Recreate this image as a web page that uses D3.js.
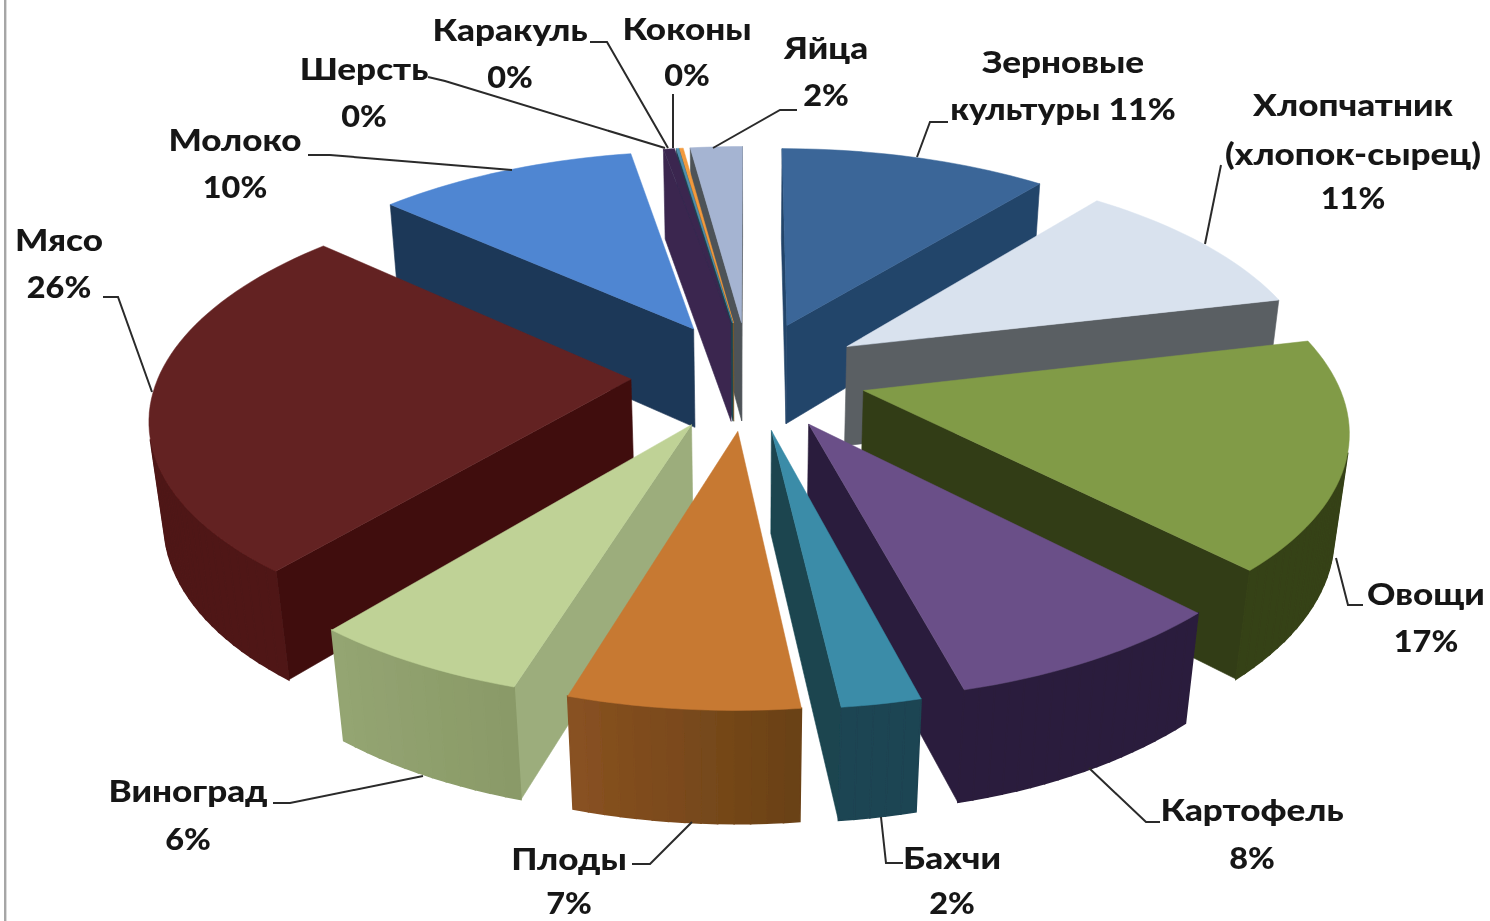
<!DOCTYPE html>
<html><head><meta charset="utf-8">
<script src="https://cdn.jsdelivr.net/npm/d3@7"></script>
<style>html,body{margin:0;padding:0;background:#fff;overflow:hidden}
text{font-family:Lato,"Open Sans",sans-serif;font-weight:900;font-size:30px;fill:#161616;text-anchor:middle}</style>
</head><body><svg id="c" width="1490" height="921"></svg>
<script>
const categories=["Зерновые культуры","Хлопчатник (хлопок-сырец)","Овощи","Картофель","Бахчи","Плоды","Виноград","Мясо","Молоко","Шерсть","Каракуль","Коконы","Яйца"];
const shares=[10.8,10.5,16.5,8.15,2.25,6.5,6.2,25.8,10.5,0.45,0.1,0.15,2.1];
const pctLabels=["11%","11%","17%","8%","2%","7%","6%","26%","10%","0%","0%","0%","2%"];
const topColors=["#3a6698","#d9e2ee","#819b47","#6b5088","#3a8ca8","#c77933","#bfd296","#642222","#4f86d2","#3a2850","#4f8fb0","#f39a3c","#a5b4d2"];
const cutColors=["#24446a","#5a5f64","#333d16","#2b1f3c","#1a4550","#6e4416","#9cad7c","#401010","#1f3858","#3a2850","#1a4550","#8a5a20","#4d5358"];
const wallFrom=["#24446a","#5a5f64","#364216","#2b1f3c","#1c4452","#6b4216","#8a9a68","#4f1818","#1f3858","#3a2850","#1a4550","#8a5a20","#4d5358"];
const wallTo=["#24446a","#5a5f64","#364216","#2b1f3c","#1c4452","#8a5222","#95a673","#4f1818","#1f3858","#3a2850","#1a4550","#8a5a20","#4d5358"];
const labelLines=[["Зерновые","культуры {p}"],["Хлопчатник","(хлопок-сырец)","{p}"],["Овощи","{p}"],["Картофель","{p}"],["Бахчи","{p}"],["Плоды","{p}"],["Виноград","{p}"],["Мясо","{p}"],["Молоко","{p}"],["Шерсть","{p}"],["Каракуль","{p}"],["Коконы","{p}"],["Яйца","{p}"]];
const labelX=[1063,1353,1426,1252,952,569,188,59,235,364,510,687,826];
const labelY=[[73,120],[116,165,209],[605,652],[821,869],[869,914],[870,914],[802,850],[251,298],[151,198],[80,127],[41,88],[40,86],[59,106]];
const leaders=[[[948,122],[930,122],[917,157]],[[1221,165],[1205,244]],[[1363,605],[1348,605],[1336,558]],[[1160,822],[1146,822],[1089,768]],[[903,863],[886,863],[881,817]],[[632,864],[650,864],[692,822]],[[273,803],[290,803],[423,776]],[[103,297],[118,297],[152,392]],[[308,155],[330,155],[512,170]],[[428,77],[445,81],[665,148]],[[590,42],[607,42],[668,148]],[[673,94],[673,148]],[[797,110],[780,110],[713,148]]];

const explode=0.2,radius=0.8,k=0.19,m=0.025,drop=103;
const sx=d3.scaleLinear().domain([-1,1]).range([749-590,749+590]);
const sy=d3.scaleLinear().domain([-1,1]).range([375-272,375+272]);
function project(u,v,z){const w=1-k*v+m*z;return [sx(u/w),sy((v+z*drop/272)/w)];}
const pie=d3.pie().sort(null).value(d=>d).startAngle(0).endAngle(2*Math.PI);
const arcs=pie(shares).map((a,i)=>{const mid=(a.startAngle+a.endAngle)/2;
 return {i,a,mid,ox:explode*Math.sin(mid),oy:-explode*Math.cos(mid)};});
const svg=d3.select("#c");
svg.append("defs").append("filter").attr("id","soft").append("feGaussianBlur").attr("stdDeviation",0.55);
svg.append("rect").attr("x",4).attr("y",0).attr("width",2.4).attr("height",921).attr("fill","#a6a6a6");
const root=svg.append("g").attr("filter","url(#soft)");
const line=d3.line();
function rim(d){const n=Math.max(2,Math.ceil((d.a.endAngle-d.a.startAngle)/0.03));
 return d3.range(n+1).map(j=>{const t=d.a.startAngle+(d.a.endAngle-d.a.startAngle)*j/n;
  return [d.ox+radius*Math.sin(t),d.oy-radius*Math.cos(t)];});}
function face(g,pts,color,sw){const poly=[project(pts[0][0],pts[0][1],0),project(pts[1][0],pts[1][1],0),project(pts[1][0],pts[1][1],1),project(pts[0][0],pts[0][1],1)];
 if(d3.polygonArea(poly)>0) g.append("path").attr("d",line(poly)+"Z").attr("fill",color).attr("stroke",color).attr("stroke-width",sw);}
const order=arcs.slice().sort((p,q)=>(p.oy-0.5*Math.cos(p.mid))-(q.oy-0.5*Math.cos(q.mid)));
order.forEach(d=>{const g=root.append("g");const r=rim(d);const apex=[d.ox,d.oy];
 face(g,[apex,r[0]],cutColors[d.i],0.6);
 face(g,[r[r.length-1],apex],cutColors[d.i],0.6);
 const col=d3.interpolateRgb(wallFrom[d.i],wallTo[d.i]);
 for(let j=0;j<r.length-1;j++) face(g,[r[j],r[j+1]],col(j/(r.length-1)),1.6);
 const top=[apex,...r].map(p=>project(p[0],p[1],0));
 g.append("path").attr("d",line(top)+"Z").attr("fill",topColors[d.i]).attr("stroke",topColors[d.i]).attr("stroke-width",0.5);
});
const lab=root.append("g");
leaders.forEach(l=>lab.append("path").attr("d",line(l)).attr("fill","none").attr("stroke","#2a2a2a").attr("stroke-width",2));
function stretch(s){return /^\d+%$/.test(s)?1.08:/%/.test(s)?1.13:1.17;}
labelLines.forEach((ls,i)=>ls.forEach((s,j)=>{const t=s.replace("{p}",pctLabels[i]);
 lab.append("text").attr("transform",`translate(${labelX[i]},${labelY[i][j]}) scale(${stretch(t)},1)`).text(t);}));
</script></body></html>
